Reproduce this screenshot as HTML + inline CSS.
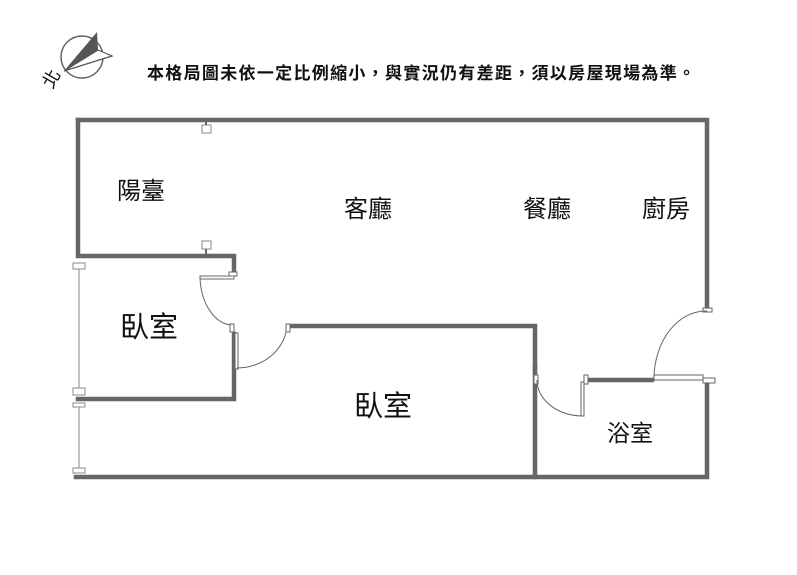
<!DOCTYPE html>
<html><head><meta charset="utf-8"><style>
html,body{margin:0;padding:0;background:#fff;}
svg{display:block;}
text{font-family:"Liberation Sans","Noto Sans CJK TC",sans-serif;fill:#111;}
</style></head><body>
<svg width="797" height="575" viewBox="0 0 797 575" xmlns="http://www.w3.org/2000/svg">
<!-- compass -->
<circle cx="82" cy="57" r="21" fill="none" stroke="#666" stroke-width="1.5"/>
<polygon points="97,32 64,71 98,50" fill="#555"/>
<polygon points="98,50 64,71 112,56" fill="#fff" stroke="#555" stroke-width="1.2"/>
<text x="42" y="84" font-size="18" transform="rotate(-60 52 78)" fill="#333">北</text>
<text x="147" y="79" font-size="17" font-weight="bold" textLength="548" lengthAdjust="spacing">本格局圖未依一定比例縮小，與實況仍有差距，須以房屋現場為準。</text>

<g stroke="#666" stroke-width="4.5" fill="none" stroke-linecap="square">
<path d="M78,120 H707 V309"/>
<path d="M78,120 V256 H234 V271"/>
<path d="M234,334 V399 H78"/>
<path d="M292,326 H535 V477"/>
<path d="M76,477 H707 V384"/>
<path d="M589,380 H652"/>
<path d="M535,365 V372"/>
</g>
<g stroke="#888" stroke-width="1" fill="#fff">
<line x1="79" y1="266" x2="79" y2="391"/>
<line x1="79" y1="405" x2="79" y2="471"/>
<rect x="73" y="263" width="12" height="6"/>
<rect x="73" y="388" width="12" height="7"/>
<rect x="73" y="403" width="12" height="4"/>
<rect x="73" y="468" width="12" height="5"/>
<rect x="202" y="125" width="9" height="8"/>
<rect x="202" y="241" width="9" height="8"/>
</g>
<g stroke="#666" stroke-width="2"><line x1="206" y1="120" x2="206" y2="125"/><line x1="206" y1="249" x2="206" y2="256"/></g>
<g stroke="#666" stroke-width="1" fill="#fff">
<rect x="200" y="276" width="34" height="3"/>
<rect x="229" y="272" width="8" height="4"/>
<path d="M200,278 A33,50 0 0 0 232,325" fill="none"/>
<rect x="230" y="324" width="4" height="8"/>
<rect x="235" y="333" width="3" height="36"/>
<path d="M237,368 A50,45 0 0 0 287,325" fill="none"/>
<rect x="286" y="324" width="4" height="8"/>
<rect x="703" y="308" width="9" height="4"/>
<path d="M707,311 A52,68 0 0 0 654,378" fill="none"/>
<rect x="654" y="375" width="49" height="5"/>
<rect x="703" y="378" width="12" height="5"/>
<rect x="534" y="375" width="4" height="9"/>
<path d="M537,380 A46,36 0 0 0 583,416" fill="none"/>
<rect x="581" y="382" width="3" height="34"/>
<rect x="584" y="375" width="4" height="9"/>
</g>
<text x="117" y="199" font-size="24">陽臺</text>
<text x="344" y="217" font-size="24">客廳</text>
<text x="523" y="217" font-size="24">餐廳</text>
<text x="642" y="217" font-size="24">廚房</text>
<text x="120" y="337" font-size="29">臥室</text>
<text x="354" y="416" font-size="29">臥室</text>
<text x="607" y="441" font-size="23">浴室</text>
</svg>
</body></html>
